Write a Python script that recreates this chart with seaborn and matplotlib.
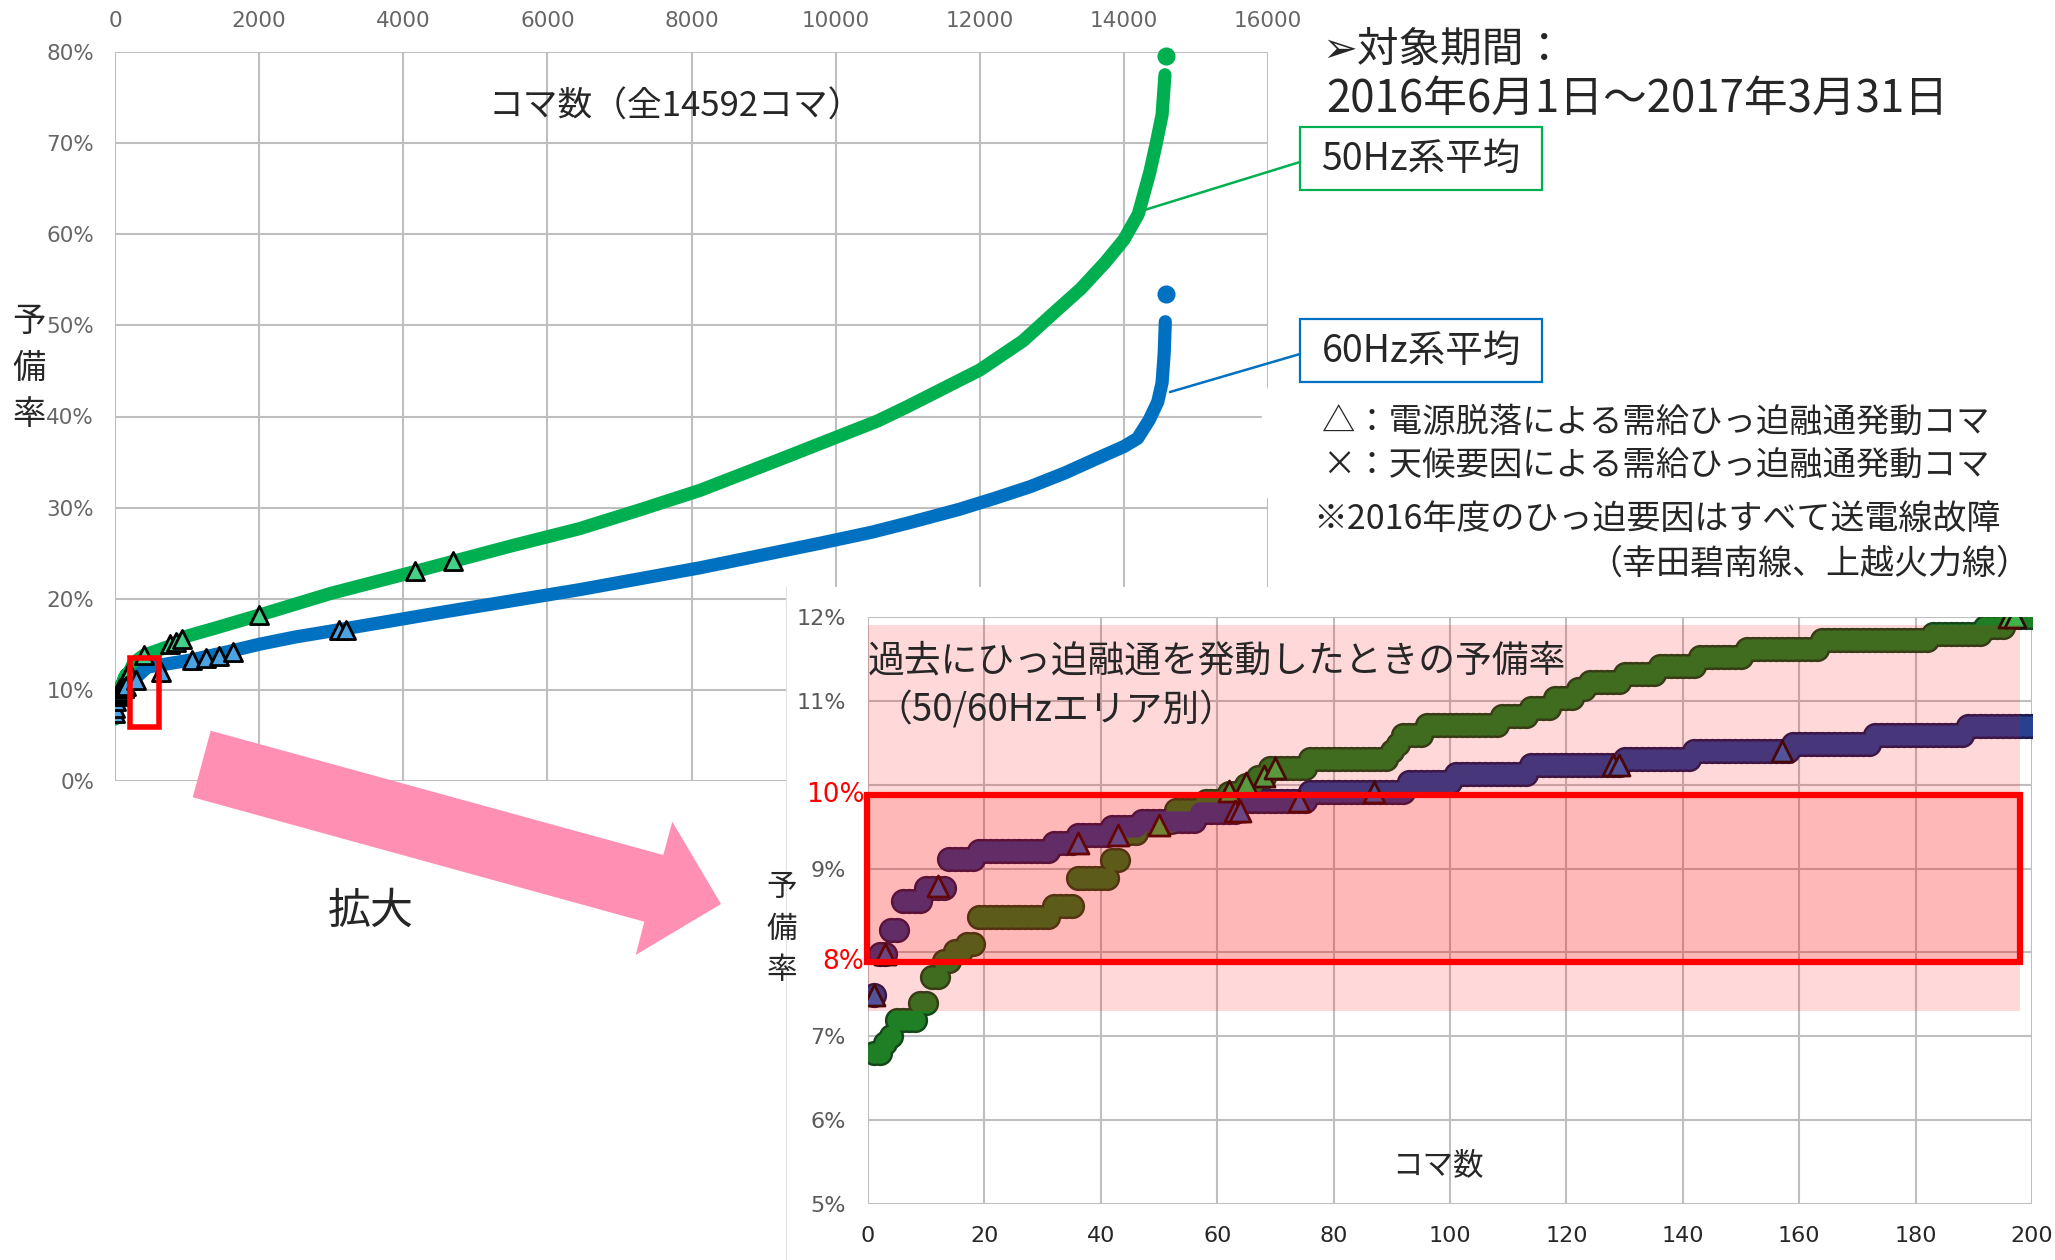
import matplotlib
matplotlib.use('Agg')
import matplotlib.pyplot as plt
import matplotlib.patches as mpatches
from matplotlib.lines import Line2D
from matplotlib import font_manager
from matplotlib.transforms import blended_transform_factory
import numpy as np
import seaborn as sns

# ---- inset: first 200 koma, step levels (%) and how many koma sit on each step
g50_levels = [6.80, 6.92, 7.00, 7.19, 7.40, 7.71, 7.90, 8.02, 8.10, 8.42, 8.55, 8.89,
              9.10, 9.43, 9.55, 9.70, 9.81, 9.90, 10.00, 10.09, 10.20, 10.31, 10.40,
              10.49, 10.59, 10.71, 10.82, 10.92, 11.03, 11.14, 11.23, 11.32, 11.42,
              11.52, 11.62, 11.72, 11.80, 11.88, 12.00]
g50_counts = [2, 1, 1, 4, 2, 2, 2, 2, 2, 13, 4, 6, 2, 3, 6, 5, 4, 3, 2, 2, 7, 14, 1,
              1, 4, 13, 5, 4, 4, 2, 6, 6, 7, 8, 13, 19, 9, 4, 5]
b60_levels = [7.49, 7.98, 8.27, 8.61, 8.77, 9.12, 9.21, 9.31, 9.40, 9.49, 9.57, 9.67,
              9.81, 9.91, 10.03, 10.13, 10.23, 10.31, 10.40, 10.49, 10.59, 10.70]
b60_counts = [1, 2, 2, 4, 4, 5, 13, 4, 6, 5, 10, 7, 12, 17, 8, 13, 16, 12, 17, 14, 16, 12]

# triangles (電源脱落) inside the first 200 koma
tri50_in_x = [50, 62, 65, 68, 70, 196, 197]
tri50_in_y = [9.52, 9.92, 10.02, 10.10, 10.20, 12.0, 12.0]
tri60_in_x = [1, 3, 12, 36, 43, 63, 64, 74, 87, 128, 129, 157]
tri60_in_y = [7.49, 7.98, 8.79, 9.30, 9.40, 9.69, 9.69, 9.81, 9.91, 10.23, 10.23, 10.40]

# ---- main chart: sorted reserve rate beyond koma 200
main50_x = [263, 400, 760, 1000, 1400, 2000, 3000, 4170, 4690, 5500, 6450, 7300, 8120,
            9230, 10000, 10580, 11000, 11500, 12000, 12600, 13060, 13400, 13740, 14000,
            14200, 14360, 14450, 14530, 14570]
main50_y = [13.0, 13.8, 14.8, 15.9, 16.8, 18.2, 20.6, 23.0, 24.1, 25.8, 27.7, 29.8, 31.9,
            35.3, 37.7, 39.5, 41.1, 43.1, 45.1, 48.3, 51.6, 54.0, 56.9, 59.4,
            62.2, 66.8, 70.0, 73.1, 77.5]
main60_x = [450, 1070, 1630, 2000, 2500, 3110, 4600, 6450, 8120, 9790, 10500, 11000,
            11710, 12200, 12700, 13180, 13600, 14000, 14190, 14350, 14470, 14530, 14560, 14575]
main60_y = [12.5, 13.3, 14.3, 15.0, 15.8, 16.6, 18.6, 21.0, 23.4, 26.1, 27.3, 28.3,
            29.8, 31.0, 32.3, 33.8, 35.3, 36.7, 37.6, 39.6, 41.6, 43.7, 47.0, 50.4]
max50 = (14585, 79.6)
max60 = (14585, 53.4)

tri50_main_x = [399, 758, 849, 929, 2000, 4166, 4693]
tri50_main_y = [13.8, 15.0, 15.3, 15.6, 18.2, 23.0, 24.1]
tri60_main_x = [293, 634, 1067, 1263, 1438, 1640, 3112, 3200]
tri60_main_y = [11.1, 12.0, 13.3, 13.5, 13.7, 14.2, 16.6, 16.6]

main_xticks = list(range(0, 16001, 2000))
main_yticks = list(range(0, 81, 10))
inset_xticks = list(range(0, 201, 20))
inset_yticks = list(range(5, 13))

GREEN, BLUE = '#00B050', '#0070C0'

sns.set_style('white')
plt.rcParams['font.family'] = ['Noto Sans CJK JP', 'DejaVu Sans']
names = {f.name for f in font_manager.fontManager.ttflist}
narrow = 'Liberation Sans Narrow' if 'Liberation Sans Narrow' in names else 'DejaVu Sans'

W, H = 2055, 1260
fig = plt.figure(figsize=(W / 100, H / 100), dpi=100)
def fx(px): return px / W
def fy(py): return 1 - py / H
def box(l, t, r, b): return [fx(l), fy(b), fx(r) - fx(l), fy(t) - fy(b)]

# ================= main chart =================
ax = fig.add_axes(box(115, 52, 1268, 781), zorder=0)
x_in = np.arange(1, 201)
y50_in = np.repeat(g50_levels, g50_counts)
y60_in = np.repeat(b60_levels, b60_counts)
x50 = np.concatenate([x_in, main50_x]); y50 = np.concatenate([y50_in, main50_y])
x60 = np.concatenate([x_in, main60_x]); y60 = np.concatenate([y60_in, main60_y])

sns.lineplot(x=x50, y=y50, ax=ax, color=GREEN, lw=9.5, sort=False, estimator=None,
             solid_capstyle='round', zorder=3)
sns.lineplot(x=x60, y=y60, ax=ax, color=BLUE, lw=9.5, sort=False, estimator=None,
             solid_capstyle='round', zorder=3)
sns.scatterplot(x=[max50[0]], y=[max50[1]], ax=ax, color=GREEN, s=170, lw=0, zorder=3, clip_on=False)
sns.scatterplot(x=[max60[0]], y=[max60[1]], ax=ax, color=BLUE, s=170, lw=0, zorder=3)
sns.scatterplot(x=tri50_in_x + tri50_main_x, y=tri50_in_y + tri50_main_y, ax=ax, marker='^',
                s=170, color='#45D08A', edgecolor='black', linewidth=2, zorder=5)
sns.scatterplot(x=tri60_in_x + tri60_main_x, y=tri60_in_y + tri60_main_y, ax=ax, marker='^',
                s=170, color='#4BA3E3', edgecolor='black', linewidth=2, zorder=5)
ax.add_patch(mpatches.Rectangle((208, 5.9), 396, 7.6, fill=False, edgecolor='#FF0000',
                                lw=4, zorder=6))

ax.set_xlim(0, 16000)
ax.set_ylim(0, 80)
ax.set_xticks(main_xticks)
ax.set_xticklabels([str(v) for v in main_xticks])
ax.set_yticks(main_yticks)
ax.set_yticklabels(['%d%%' % v for v in main_yticks])
ax.xaxis.tick_top()
ax.tick_params(length=0, labelsize=15.5, labelcolor='#666666', pad=15, labelfontfamily=narrow)
ax.grid(True, color='#BFBFBF', lw=1.5)
ax.set_axisbelow(True)
for s in ax.spines.values():
    s.set_visible(False)
ax.set_xlabel('')
ax.set_ylabel('')
ax.text(0.486, 0.925, 'コマ数（全14592コマ）', transform=ax.transAxes, ha='center', va='center',
        fontsize=25)
fig.text(fx(29), fy(368), '予\n備\n率', ha='center', va='center', fontsize=24, linespacing=1.42)

# white gap behind the notes at the right
fig.add_artist(mpatches.Rectangle((fx(1262), fy(497)), fx(2055) - fx(1262), fy(388) - fy(497),
                                  transform=fig.transFigure, color='white', zorder=1))

# ================= annotations at the right =================
fig.text(fx(1322), fy(50), '➢対象期間：', ha='left', va='center', fontsize=30,
         family=['Noto Sans CJK JP', 'DejaVu Sans'])
fig.text(fx(1326), fy(99), '2016年6月1日～2017年3月31日', ha='left', va='center', fontsize=31.5)

for top, col, label, (lx, ly) in [(127, GREEN, '50Hz系平均', (1138, 212)),
                                  (319, BLUE, '60Hz系平均', (1170, 392))]:
    fig.add_artist(mpatches.Rectangle((fx(1300), fy(top + 63)), fx(1542) - fx(1300),
                                      fy(top) - fy(top + 63), transform=fig.transFigure,
                                      fill=False, edgecolor=col, lw=1.6, zorder=4))
    fig.add_artist(Line2D([fx(lx), fx(1300)], [fy(ly), fy(top + 35)], color=col, lw=1.8,
                          transform=fig.transFigure, zorder=4))
    fig.text(fx(1421), fy(top + 32), label, ha='center', va='center', fontsize=27, zorder=5)

notes = ['△：電源脱落による需給ひっ迫融通発動コマ',
         '×：天候要因による需給ひっ迫融通発動コマ',
         '※2016年度のひっ迫要因はすべて送電線故障']
note_sizes = [24, 24, 24.5]
for txt, fs, (x0, y0) in zip(notes, note_sizes, [(1322, 422), (1322, 465), (1313, 519)]):
    fig.text(fx(x0), fy(y0), txt, ha='left', va='center', fontsize=fs, zorder=5)
fig.text(fx(2030), fy(564), '（幸田碧南線、上越火力線）', ha='right', va='center', fontsize=24.5, zorder=5)

# zoom arrow
arrow_pts = [(210.7, 730.7), (663.3, 855), (672.3, 821.7), (721, 904),
             (635.7, 955), (644.3, 921.7), (192.7, 797.3)]
fig.add_artist(mpatches.Polygon([(fx(a), fy(b)) for a, b in arrow_pts], closed=True,
                                transform=fig.transFigure, facecolor='#FF90B4',
                                edgecolor='none', zorder=2))
fig.text(fx(371), fy(912), '拡大', ha='center', va='center', fontsize=31)

# ================= inset =================
bg = fig.add_axes(box(786, 587, 2055, 1260), zorder=1)
bg.set_xticks([]); bg.set_yticks([])
for k, s in bg.spines.items():
    s.set_visible(k == 'left')
bg.spines['left'].set_color('#E3E3E3')

ins = fig.add_axes(box(868, 617, 2032, 1204), zorder=2)
# dark outline layer, then the body of the band on top
sns.scatterplot(x=x_in, y=y50_in, ax=ins, s=330, color='#15461A', linewidth=0, zorder=3)
sns.scatterplot(x=x_in, y=y60_in, ax=ins, s=330, color='#1D1A50', linewidth=0, zorder=3)
sns.scatterplot(x=x_in, y=y50_in, ax=ins, s=215, color='#1F7F25', linewidth=0, zorder=3.1)
sns.scatterplot(x=x_in, y=y60_in, ax=ins, s=215, color='#27408F', linewidth=0, zorder=3.1)
sns.scatterplot(x=tri50_in_x, y=tri50_in_y, ax=ins, marker='^', s=230, color='#3DB54A',
                edgecolor='#2A0A0A', linewidth=2, zorder=4)
sns.scatterplot(x=tri60_in_x, y=tri60_in_y, ax=ins, marker='^', s=230, color='#3462B5',
                edgecolor='#2A0A0A', linewidth=2, zorder=4)

ins.add_patch(mpatches.Rectangle((0, 7.30), 198, 4.61, facecolor='#FF0000', alpha=0.15,
                                 lw=0, zorder=6))
ins.add_patch(mpatches.Rectangle((-0.2, 7.89), 198.2, 1.99, facecolor='#FF0000', alpha=0.15,
                                 lw=0, zorder=6, clip_on=False))
ins.add_patch(mpatches.Rectangle((-0.2, 7.89), 198.2, 1.99, fill=False, edgecolor='#FF0000',
                                 lw=4.5, zorder=7, clip_on=False))

ins.set_xlim(0, 200)
ins.set_ylim(5, 12)
ins.set_xticks(inset_xticks)
ins.set_xticklabels([str(v) for v in inset_xticks])
ins.set_yticks(inset_yticks)
ins.set_yticklabels(['' if v in (8, 10) else '%d%%' % v for v in inset_yticks])
ins.tick_params(length=0, labelsize=16, pad=16, labelfontfamily=narrow)
ins.tick_params(axis='x', labelcolor='#262626')
ins.tick_params(axis='y', labelcolor='#595959')
ins.grid(True, color='#BFBFBF', lw=1.5)
ins.set_axisbelow(True)
for s in ins.spines.values():
    s.set_visible(False)
ins.set_xlabel('')
ins.set_ylabel('')
tr = blended_transform_factory(ins.transAxes, ins.transData)
ins.text(-0.003, 9.88, '10%', transform=tr, ha='right', va='center', color='#FF0000',
         fontsize=19, family='DejaVu Sans', zorder=8)
ins.text(-0.003, 7.89, '8%', transform=tr, ha='right', va='center', color='#FF0000',
         fontsize=19, family='DejaVu Sans', zorder=8)
ins.text(0.0, 0.925, '過去にひっ迫融通を発動したときの予備率', transform=ins.transAxes,
         ha='left', va='center', fontsize=26.5, zorder=8)
ins.text(0.006, 0.84, '（50/60Hzエリア別）', transform=ins.transAxes,
         ha='left', va='center', fontsize=26.5, zorder=8)
ins.text(0.49, 0.065, 'コマ数', transform=ins.transAxes, ha='center', va='center',
         fontsize=22, zorder=8)
fig.text(fx(782), fy(929), '予\n備\n率', ha='center', va='center', fontsize=22,
         linespacing=1.45, zorder=5)

fig.savefig('out.png', dpi=100)
